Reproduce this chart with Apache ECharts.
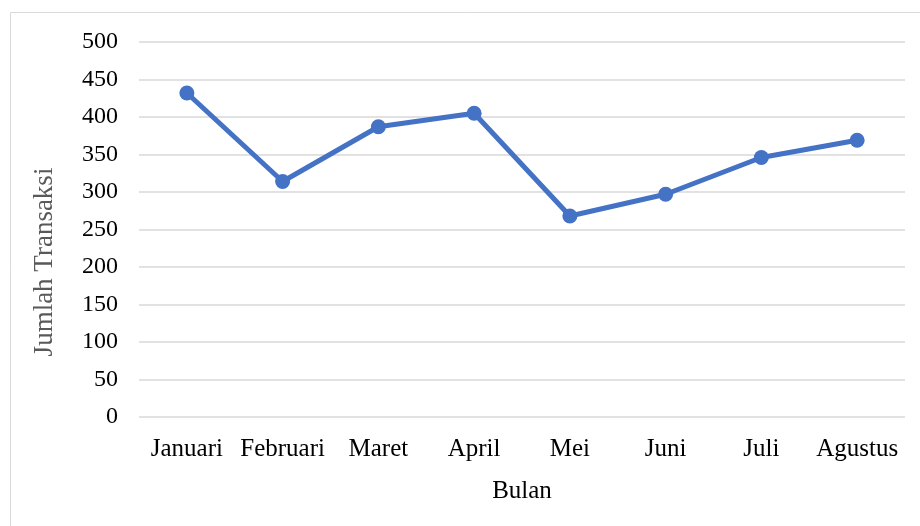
<!DOCTYPE html>
<html>
<head>
<meta charset="utf-8">
<script src="https://cdn.jsdelivr.net/npm/echarts@6/dist/echarts.min.js"></script>
<style>
html,body{margin:0;padding:0;background:#fff;}
#chart{width:920px;height:526px;}
</style>
</head>
<body>
<div id="chart"></div>
<script>
const categories = ['Januari','Februari','Maret','April','Mei','Juni','Juli','Agustus'];
const transaksi = [432, 314, 387, 405, 268, 297, 346, 369];
const yTicks = {min: 0, max: 500, interval: 50};

const chart = echarts.init(document.getElementById('chart'), null, {renderer: 'canvas'});
const font = '"Liberation Serif", "Times New Roman", serif';
chart.setOption({
  animation: false,
  backgroundColor: '#fff',
  grid: {left: 139, right: 15, top: 42, bottom: 109},
  graphic: [
    {type: 'rect', shape: {x: 10.5, y: 12.5, width: 1000, height: 1000},
     style: {fill: 'none', stroke: '#d9d9d9', lineWidth: 1}},
    {type: 'text', x: 45, y: 262, rotation: Math.PI / 2,
     style: {text: 'Jumlah Transaksi', font: '27px ' + font, fill: '#595959',
             align: 'center', verticalAlign: 'middle'}}
  ],
  xAxis: {
    type: 'category',
    data: categories,
    boundaryGap: true,
    name: 'Bulan',
    nameLocation: 'middle',
    nameGap: 62,
    nameTextStyle: {fontFamily: font, fontSize: 25, color: '#000'},
    axisLine: {show: false},
    axisTick: {show: false},
    axisLabel: {fontFamily: font, fontSize: 25, color: '#000', margin: 20, interval: 0}
  },
  yAxis: {
    type: 'value',
    min: yTicks.min, max: yTicks.max, interval: yTicks.interval,
    axisLine: {show: false},
    axisTick: {show: false},
    axisLabel: {fontFamily: font, fontSize: 24, color: '#000', margin: 21},
    splitLine: {lineStyle: {color: '#d9d9d9', width: 1.5}}
  },
  series: [{
    type: 'line',
    data: transaksi,
    symbol: 'circle',
    symbolSize: 15,
    lineStyle: {color: '#4472C4', width: 5},
    itemStyle: {color: '#4472C4'}
  }]
});
</script>
</body>
</html>
